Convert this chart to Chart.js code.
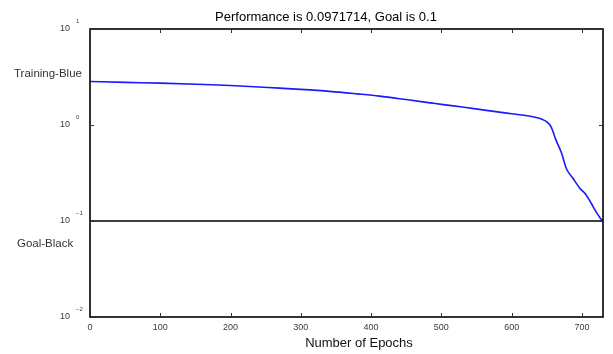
<!DOCTYPE html>
<html>
<head>
<meta charset="utf-8">
<script src="https://cdn.jsdelivr.net/npm/chart.js@4/dist/chart.umd.min.js"></script>
<style>
html,body{margin:0;padding:0;background:#fff;}
#wrap{width:613px;height:354px;position:relative;}
</style>
</head>
<body>
<div id="wrap"><canvas id="c" width="613" height="354"></canvas></div>
<script>
// ---- data ----
const epochs = [0, 50, 100, 152, 200, 270, 300, 341, 380, 412, 450, 487, 500, 530, 564, 600, 625, 638, 644, 650, 656, 663, 671, 678, 687, 697, 706, 713, 720, 730];
const performance = [2.84, 2.78, 2.73, 2.66, 2.58, 2.42, 2.35, 2.24, 2.11, 2.00, 1.84, 1.69, 1.64, 1.54, 1.42, 1.31, 1.24, 1.18, 1.14, 1.08, 0.96, 0.70, 0.51, 0.35, 0.28, 0.22, 0.187, 0.154, 0.125, 0.0971714];
const goal = 0.1;
const maxEpoch = 730;
const xTicks = [0, 100, 200, 300, 400, 500, 600, 700];
const yTickExponents = [1, 0, -1, -2];
const titleText = 'Performance is 0.0971714, Goal is 0.1';
const xLabel = 'Number of Epochs';
const trainLabel = 'Training-Blue';
const goalLabel = 'Goal-Black';

const FONT = '"Liberation Sans", Arial, sans-serif';

const trainData = epochs.map((e, i) => ({x: e, y: performance[i]}));
const goalData = [{x: 0, y: goal}, {x: maxEpoch, y: goal}];

const decor = {
  id: 'decor',
  afterDraw(chart) {
    const ctx = chart.ctx;
    const a = chart.chartArea;
    const xs = chart.scales.x, ys = chart.scales.y;
    ctx.save();
    // frame
    ctx.strokeStyle = '#000';
    ctx.lineWidth = 1.6;
    ctx.strokeRect(a.left, a.top, a.right - a.left, a.bottom - a.top);
    // inward ticks
    ctx.lineWidth = 1;
    ctx.strokeStyle = '#333';
    ctx.beginPath();
    xTicks.forEach(v => {
      if (v === 0) return;
      const px = Math.round(xs.getPixelForValue(v)) + 0.5;
      ctx.moveTo(px, a.bottom); ctx.lineTo(px, a.bottom - 4);
      ctx.moveTo(px, a.top); ctx.lineTo(px, a.top + 4);
    });
    yTickExponents.forEach(e => {
      const py = Math.round(ys.getPixelForValue(Math.pow(10, e))) + 0.5;
      ctx.moveTo(a.left, py); ctx.lineTo(a.left + 4, py);
      ctx.moveTo(a.right, py); ctx.lineTo(a.right - 4, py);
    });
    ctx.stroke();
    // y tick labels: 10 with superscript exponent
    ctx.fillStyle = '#3a3a4a';
    yTickExponents.forEach(e => {
      const py = ys.getPixelForValue(Math.pow(10, e));
      ctx.font = '9px ' + FONT;
      ctx.textAlign = 'right';
      ctx.textBaseline = 'middle';
      ctx.fillText('10', a.left - 20, py);
      ctx.font = '6px ' + FONT;
      ctx.textAlign = 'left';
      ctx.fillText(String(e).replace('-', '\u2212'), a.left - 14, py - 8);
    });
    // title
    ctx.fillStyle = '#000';
    ctx.font = '13px ' + FONT;
    ctx.textAlign = 'center';
    ctx.textBaseline = 'middle';
    ctx.fillText(titleText, 326, 17);
    // x axis title
    ctx.fillStyle = '#111';
    ctx.font = '13px ' + FONT;
    ctx.fillText(xLabel, 359, 343);
    // series labels
    ctx.fillStyle = '#333';
    ctx.font = '11.5px ' + FONT;
    ctx.textAlign = 'left';
    ctx.fillText(trainLabel, 14, 74);
    ctx.fillText(goalLabel, 17, 244);
    ctx.restore();
  }
};

new Chart(document.getElementById('c'), {
  type: 'scatter',
  data: {
    datasets: [
      {label: 'Training', data: trainData, showLine: true, borderColor: '#1a1aff', borderWidth: 1.6, pointRadius: 0, cubicInterpolationMode: 'monotone', fill: false},
      {label: 'Goal', data: goalData, showLine: true, borderColor: '#000', borderWidth: 1.3, pointRadius: 0, fill: false}
    ]
  },
  options: {
    responsive: false,
    animation: false,
    layout: {padding: {left: 0, right: 10, top: 29, bottom: 0}},
    plugins: {legend: {display: false}, tooltip: {enabled: false}, title: {display: false}},
    scales: {
      x: {
        type: 'linear', min: 0, max: maxEpoch,
        grid: {display: false, drawTicks: false},
        border: {display: false},
        afterBuildTicks: s => { s.ticks = xTicks.map(v => ({value: v})); },
        afterFit: s => { s.height = 37; },
        ticks: {color: '#3a3a4a', font: {family: FONT, size: 9}, padding: 5, maxRotation: 0, autoSkip: false}
      },
      y: {
        type: 'logarithmic', min: 0.01, max: 10,
        grid: {display: false, drawTicks: false},
        border: {display: false},
        afterFit: s => { s.width = 90; },
        ticks: {display: false}
      }
    }
  },
  plugins: [decor]
});
</script>
</body>
</html>
